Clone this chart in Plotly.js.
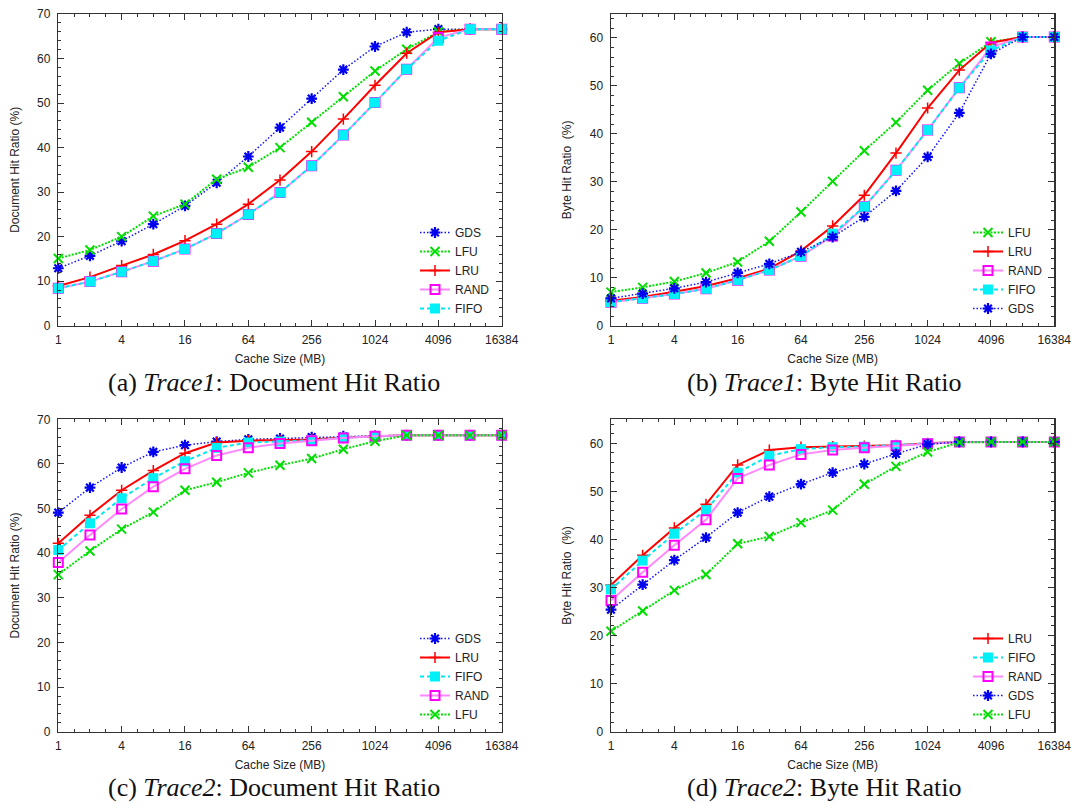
<!DOCTYPE html>
<html>
<head>
<meta charset="utf-8">
<script src="https://cdn.plot.ly/plotly-3.0.1.min.js"></script>
<style>
  html, body { margin: 0; padding: 0; background: #ffffff; }
  #chart { width: 1076px; height: 812px; }
</style>
</head>
<body>
<div id="chart"></div>
<script>
// Cache sizes (MB) simulated for every policy
const cacheSizeMB = [1, 2, 4, 8, 16, 32, 64, 128, 256, 512, 1024, 2048, 4096, 8192, 16384];

// Trace1: document hit ratio (%)
const trace1DocGDS  = [12.9, 15.7, 19.0, 22.8, 26.9, 32.1, 38.0, 44.5, 51.0, 57.5, 62.7, 65.9, 66.6, 66.6, 66.6];
const trace1DocLFU  = [15.1, 17.0, 20.0, 24.6, 27.3, 32.9, 35.6, 40.0, 45.7, 51.4, 57.2, 62.1, 66.0, 66.6, 66.6];
const trace1DocLRU  = [8.9, 10.9, 13.5, 16.0, 19.1, 22.8, 27.3, 32.7, 39.1, 46.4, 54.0, 61.2, 65.9, 66.6, 66.6];
const trace1DocRAND = [8.4, 9.9, 12.1, 14.5, 17.2, 20.7, 25.0, 29.9, 35.9, 42.8, 50.1, 57.6, 64.7, 66.6, 66.6];
const trace1DocFIFO = [8.4, 9.9, 12.1, 14.5, 17.2, 20.7, 25.0, 29.9, 35.9, 42.8, 50.1, 57.6, 64.0, 66.6, 66.6];

// Trace1: byte hit ratio (%)
const trace1ByteLFU  = [7.0, 8.0, 9.2, 11.0, 13.3, 17.6, 23.7, 30.1, 36.5, 42.4, 49.1, 54.7, 59.2, 60.2, 60.2];
const trace1ByteLRU  = [5.2, 6.0, 7.1, 8.3, 9.9, 11.9, 15.6, 20.8, 27.2, 36.0, 45.4, 53.3, 59.0, 60.2, 60.2];
const trace1ByteRAND = [4.9, 5.7, 6.6, 7.7, 9.5, 11.6, 14.5, 18.7, 24.8, 32.4, 40.8, 49.6, 58.1, 60.2, 60.2];
const trace1ByteFIFO = [4.9, 5.7, 6.6, 7.7, 9.5, 11.6, 14.5, 19.2, 24.8, 32.4, 40.8, 49.6, 57.4, 60.2, 60.2];
const trace1ByteGDS  = [5.7, 6.7, 7.8, 9.1, 11.0, 12.9, 15.4, 18.5, 22.7, 28.1, 35.2, 44.4, 56.7, 60.2, 60.2];

// Trace2: document hit ratio (%)
const trace2DocGDS  = [49.1, 54.7, 59.2, 62.7, 64.2, 65.0, 65.5, 65.7, 66.0, 66.2, 66.3, 66.4, 66.4, 66.4, 66.4];
const trace2DocLRU  = [42.2, 48.5, 54.1, 58.5, 62.4, 64.8, 65.2, 65.3, 65.5, 65.9, 66.2, 66.4, 66.4, 66.4, 66.4];
const trace2DocFIFO = [40.7, 46.7, 52.3, 56.8, 60.6, 63.6, 64.8, 65.0, 65.3, 65.9, 66.2, 66.4, 66.4, 66.4, 66.4];
const trace2DocRAND = [37.9, 44.1, 49.9, 54.9, 58.9, 61.9, 63.6, 64.6, 65.2, 65.8, 66.2, 66.4, 66.4, 66.4, 66.4];
const trace2DocLFU  = [35.2, 40.5, 45.4, 49.2, 54.1, 55.9, 58.0, 59.7, 61.2, 63.3, 65.1, 66.4, 66.4, 66.4, 66.4];

// Trace2: byte hit ratio (%)
const trace2ByteLRU  = [30.5, 36.7, 42.4, 47.3, 55.5, 58.6, 59.2, 59.3, 59.4, 59.6, 60.0, 60.3, 60.3, 60.3, 60.3];
const trace2ByteFIFO = [29.6, 35.6, 41.2, 46.1, 53.9, 57.4, 58.8, 59.2, 59.3, 59.6, 60.0, 60.3, 60.3, 60.3, 60.3];
const trace2ByteRAND = [27.3, 33.2, 38.8, 44.1, 52.7, 55.5, 57.7, 58.6, 59.1, 59.5, 59.9, 60.3, 60.3, 60.3, 60.3];
const trace2ByteGDS  = [25.4, 30.6, 35.7, 40.4, 45.6, 48.9, 51.5, 53.9, 55.7, 57.8, 59.8, 60.3, 60.3, 60.3, 60.3];
const trace2ByteLFU  = [20.9, 25.1, 29.4, 32.7, 39.1, 40.6, 43.5, 46.1, 51.5, 55.2, 58.2, 60.2, 60.3, 60.3, 60.3];

// Axis labels
const xTickLabels = ['1', '4', '16', '64', '256', '1024', '4096', '16384'];
const xTickValues = [1, 4, 16, 64, 256, 1024, 4096, 16384];
const captions = [
  '(a) <i>Trace1</i>: Document Hit Ratio',
  '(b) <i>Trace1</i>: Byte Hit Ratio',
  '(c) <i>Trace2</i>: Document Hit Ratio',
  '(d) <i>Trace2</i>: Byte Hit Ratio'
];

// Per-policy line and marker look
const policyStyle = {
  GDS:  { line: { color: '#1010ff', width: 1.5, dash: '1.5px,2px' },
          marker: { symbol: 'asterisk-open', size: 9, color: '#0000ee', line: { color: '#0000ee', width: 2.2 } } },
  LFU:  { line: { color: '#00e000', width: 2, dash: '2px,1.5px' },
          marker: { symbol: 'x-thin-open', size: 9, color: '#00dd00', line: { color: '#00dd00', width: 2 } } },
  LRU:  { line: { color: '#ff0000', width: 2 },
          marker: { symbol: 'cross-thin-open', size: 8, color: '#ff0000', line: { color: '#ff0000', width: 1.5 } } },
  RAND: { line: { color: '#ff88ff', width: 2 },
          marker: { symbol: 'square-open', size: 9, color: '#ff00ff', line: { color: '#ff00ff', width: 2 } } },
  FIFO: { line: { color: '#00e8f0', width: 2, dash: '4px,3px' },
          marker: { symbol: 'square', size: 10, color: '#00f0f8', line: { width: 0 } } }
};

function series(name, values, axisId, legendId) {
  const s = policyStyle[name];
  return {
    type: 'scatter', mode: 'lines+markers', name: name,
    x: cacheSizeMB, y: values,
    xaxis: 'x' + axisId, yaxis: 'y' + axisId,
    legend: legendId,
    line: s.line, marker: s.marker,
    cliponaxis: false, hoverinfo: 'x+y+name'
  };
}

const data = [
  // (a) order also sets the legend order
  series('GDS',  trace1DocGDS,  '', 'legend'),
  series('LFU',  trace1DocLFU,  '', 'legend'),
  series('LRU',  trace1DocLRU,  '', 'legend'),
  series('RAND', trace1DocRAND, '', 'legend'),
  series('FIFO', trace1DocFIFO, '', 'legend'),
  // (b)
  series('LFU',  trace1ByteLFU,  '2', 'legend2'),
  series('LRU',  trace1ByteLRU,  '2', 'legend2'),
  series('RAND', trace1ByteRAND, '2', 'legend2'),
  series('FIFO', trace1ByteFIFO, '2', 'legend2'),
  series('GDS',  trace1ByteGDS,  '2', 'legend2'),
  // (c)
  series('GDS',  trace2DocGDS,  '3', 'legend3'),
  series('LRU',  trace2DocLRU,  '3', 'legend3'),
  series('FIFO', trace2DocFIFO, '3', 'legend3'),
  series('RAND', trace2DocRAND, '3', 'legend3'),
  series('LFU',  trace2DocLFU,  '3', 'legend3'),
  // (d)
  series('LRU',  trace2ByteLRU,  '4', 'legend4'),
  series('FIFO', trace2ByteFIFO, '4', 'legend4'),
  series('RAND', trace2ByteRAND, '4', 'legend4'),
  series('GDS',  trace2ByteGDS,  '4', 'legend4'),
  series('LFU',  trace2ByteLFU,  '4', 'legend4')
];

const W = 1076, H = 812;
const px = v => v / W;
const py = v => 1 - v / H;

// Minor ticks at every half-octave between the labelled powers of four
const xMinorTicks = [];
for (let k = 1; k < 28; k++) { if (k % 4 !== 0) xMinorTicks.push(Math.pow(2, k / 2)); }

const sansFont = { family: 'Liberation Sans, Arial, sans-serif', size: 12, color: '#222222' };

function xAxis(left, right, anchor) {
  return {
    type: 'log', domain: [px(left), px(right)], anchor: anchor,
    range: [0, Math.log10(16384)],
    tickmode: 'array', tickvals: xTickValues, ticktext: xTickLabels,
    ticks: 'inside', ticklen: 6, tickwidth: 1, tickcolor: '#333333',
    minor: { tickmode: 'array', tickvals: xMinorTicks, ticks: 'inside', ticklen: 3, tickwidth: 1, tickcolor: '#333333' },
    showline: true, linecolor: '#333333', linewidth: 1.5, mirror: 'ticks',
    showgrid: false, zeroline: false,
    tickfont: sansFont, ticklabelstandoff: 2,
    title: { text: 'Cache Size (MB)', font: sansFont, standoff: 9 }
  };
}

function yAxis(top, bottom, maxVal, label, anchor) {
  return {
    domain: [py(bottom), py(top)], anchor: anchor,
    range: [0, maxVal],
    tickmode: 'linear', tick0: 0, dtick: 10,
    ticks: 'inside', ticklen: 6, tickwidth: 1, tickcolor: '#333333',
    minor: { dtick: 2, ticks: 'inside', ticklen: 3, tickwidth: 1, tickcolor: '#333333' },
    showline: true, linecolor: '#333333', linewidth: 1.5, mirror: 'ticks',
    showgrid: false, zeroline: false,
    tickfont: sansFont, ticklabelstandoff: 4,
    title: { text: label, font: sansFont, standoff: 15 }
  };
}

function legendAt(rightPx, bottomPx) {
  return {
    x: px(rightPx), y: py(bottomPx), xanchor: 'right', yanchor: 'bottom',
    bgcolor: 'rgba(0,0,0,0)', borderwidth: 0,
    font: sansFont, tracegroupgap: 0
  };
}

const L = [58.3, 501.7], R = [611, 1054.3];
const T = [14, 325.7], B = [419.3, 731.7];

const layout = {
  width: W, height: H,
  margin: { l: 0, r: 0, t: 0, b: 0 },
  paper_bgcolor: '#ffffff', plot_bgcolor: '#ffffff',
  font: sansFont,
  xaxis:  xAxis(L[0], L[1], 'y'),
  yaxis:  yAxis(T[0], T[1], 70, 'Document Hit Ratio (%)', 'x'),
  xaxis2: xAxis(R[0], R[1], 'y2'),
  yaxis2: yAxis(T[0], T[1], 65, 'Byte Hit Ratio\u00a0 (%)', 'x2'),
  xaxis3: xAxis(L[0], L[1], 'y3'),
  yaxis3: yAxis(B[0], B[1], 70, 'Document Hit Ratio (%)', 'x3'),
  xaxis4: xAxis(R[0], R[1], 'y4'),
  yaxis4: yAxis(B[0], B[1], 65, 'Byte Hit Ratio\u00a0 (%)', 'x4'),
  legend:  legendAt(495, 323),
  legend2: legendAt(1048, 323),
  legend3: legendAt(495, 729),
  legend4: legendAt(1048, 729),
  showlegend: true,
  annotations: [
    { text: captions[0], x: px(274), y: py(382) },
    { text: captions[1], x: px(824), y: py(382) },
    { text: captions[2], x: px(274), y: py(787) },
    { text: captions[3], x: px(824), y: py(787) }
  ].map(a => Object.assign(a, {
    xref: 'paper', yref: 'paper', xanchor: 'center', yanchor: 'middle', showarrow: false,
    font: { family: 'Liberation Serif, Times New Roman, serif', size: 26, color: '#111111' }
  }))
};

Plotly.newPlot('chart', data, layout, { displayModeBar: false, staticPlot: true });
</script>
</body>
</html>
